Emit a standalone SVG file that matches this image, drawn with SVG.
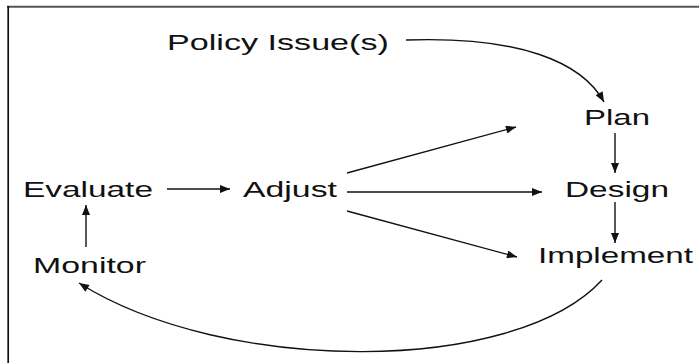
<svg xmlns="http://www.w3.org/2000/svg" width="699" height="363" viewBox="0 0 699 363">
<defs>
<style>
.t{font-family:"Liberation Sans",Arial,sans-serif;font-size:22px;fill:#111}
.c{fill:none;stroke:#111;stroke-width:1.4}
</style>
<marker id="ah" viewBox="0 0 10 8" refX="10" refY="4" markerWidth="11" markerHeight="8" markerUnits="userSpaceOnUse" orient="auto">
<path d="M0,0 L10,4 L0,8 Z" fill="#111"/>
</marker>
</defs>
<rect x="0" y="0" width="699" height="363" fill="#fff"/>
<g id="frame">
<line x1="7" y1="6.8" x2="699" y2="6.8" stroke="#555" stroke-width="2"/>
<line x1="8.2" y1="6" x2="8.2" y2="363" stroke="#111" stroke-width="1.7"/>
</g>
<g id="policy" transform="translate(167,50) scale(1.52,1)"><text class="t" x="0" y="0" textLength="146" lengthAdjust="spacingAndGlyphs">Policy Issue(s)</text></g>
<g id="plan" transform="translate(584,125) scale(1.52,1)"><text class="t" x="0" y="0" textLength="43.4" lengthAdjust="spacingAndGlyphs">Plan</text></g>
<g id="design" transform="translate(565,197) scale(1.52,1)"><text class="t" x="0" y="0" textLength="68.4" lengthAdjust="spacingAndGlyphs">Design</text></g>
<g id="implement" transform="translate(538,263) scale(1.52,1)"><text class="t" x="0" y="0" textLength="102" lengthAdjust="spacingAndGlyphs">Implement</text></g>
<g id="evaluate" transform="translate(23,197) scale(1.52,1)"><text class="t" x="0" y="0" textLength="85.5" lengthAdjust="spacingAndGlyphs">Evaluate</text></g>
<g id="adjust" transform="translate(243,197) scale(1.52,1)"><text class="t" x="0" y="0" textLength="61.8" lengthAdjust="spacingAndGlyphs">Adjust</text></g>
<g id="monitor" transform="translate(33,273) scale(1.52,1)"><text class="t" x="0" y="0" textLength="74.3" lengthAdjust="spacingAndGlyphs">Monitor</text></g>
<g id="connectors">
<path class="c" marker-end="url(#ah)" d="M406,40 C520,36 582,62 604,102"/>
<line class="c" marker-end="url(#ah)" x1="615" y1="133" x2="615" y2="173"/>
<line class="c" marker-end="url(#ah)" x1="615" y1="202" x2="615" y2="243"/>
<line class="c" marker-end="url(#ah)" x1="167" y1="189" x2="230" y2="189"/>
<line class="c" marker-end="url(#ah)" x1="347" y1="192" x2="542" y2="192"/>
<line class="c" marker-end="url(#ah)" x1="347" y1="173" x2="516" y2="127"/>
<line class="c" marker-end="url(#ah)" x1="347" y1="211" x2="517" y2="257"/>
<line class="c" marker-end="url(#ah)" x1="86" y1="247" x2="86" y2="205"/>
<path class="c" marker-end="url(#ah)" d="M602,280 C515,375 225,375 79,283"/>
</g>
</svg>
